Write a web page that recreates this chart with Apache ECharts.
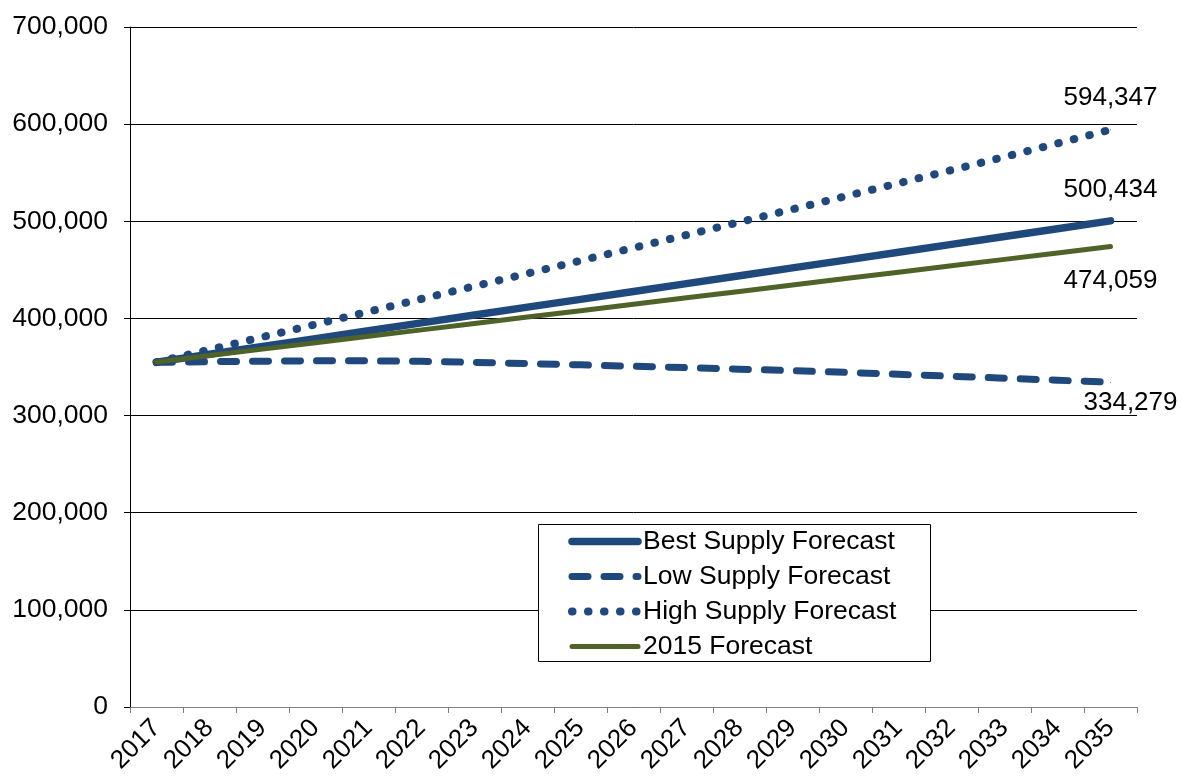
<!DOCTYPE html>
<html>
<head>
<meta charset="utf-8">
<script src="https://cdn.jsdelivr.net/npm/echarts@6/dist/echarts.min.js"></script>
<style>
  html, body { margin: 0; padding: 0; background: #fff; }
  #chart { width: 1182px; height: 781px; }
</style>
</head>
<body>
<div id="chart"></div>
<script>
// Supply forecasts, 2017–2035
const years = ['2017', '2018', '2019', '2020', '2021', '2022', '2023', '2024', '2025', '2026',
               '2027', '2028', '2029', '2030', '2031', '2032', '2033', '2034', '2035'];

const bestSupply = [355000, 363100, 371200, 379200, 387300, 395400, 403500, 411600, 419600, 427700,
                    435800, 443900, 452000, 460000, 468100, 476200, 484300, 492400, 500434];

const lowSupply = [354800, 355500, 356000, 356400, 356400, 355800, 354800, 353500, 352200, 350800,
                   349300, 347800, 346200, 344500, 342500, 340500, 338500, 336400, 334279];

const highSupply = [355000, 367900, 380900, 393900, 407000, 420100, 433200, 446300, 459500, 472700,
                    485900, 499200, 512400, 525800, 539200, 552700, 566300, 580200, 594347];

const forecast2015 = [355200, 361800, 368400, 375000, 381600, 388200, 394800, 401400, 408000, 414600,
                      421200, 427800, 434400, 441000, 447600, 454200, 460800, 467400, 474059];

const seriesNames = ['Best Supply Forecast', 'Low Supply Forecast', 'High Supply Forecast', '2015 Forecast'];

const BLUE = '#1F497D';
const GREEN = '#4F6228';
const FONT = 'Arial, "Liberation Sans", sans-serif';

const fmt = v => Number(v).toLocaleString('en-US');

// Only the final year carries a value label
function withEndLabel(values, label) {
  return values.map((v, i) => i === values.length - 1
    ? { value: v, symbol: 'circle', symbolSize: 1,
        label: Object.assign({ show: true, formatter: p => fmt(p.value),
        color: '#000', fontSize: 26, fontFamily: FONT }, label) }
    : v);
}

const styles = {
  best:  { color: BLUE,  width: 7.5, type: 'solid',     cap: 'round', join: 'round' },
  low:   { color: BLUE,  width: 7,   type: [16, 16],    cap: 'round', join: 'round' },
  high:  { color: BLUE,  width: 8,   type: [0.5, 15.5], cap: 'round', join: 'round' },
  f2015: { color: GREEN, width: 5,   type: 'solid',     cap: 'round', join: 'round' }
};

const chart = echarts.init(document.getElementById('chart'), null, { renderer: 'canvas' });

function lineSeries(name, values, style, label) {
  return {
    name: name,
    type: 'line',
    symbol: 'none',
    showSymbol: true,
    data: withEndLabel(values, label),
    lineStyle: style,
    itemStyle: { color: style.color },
    emphasis: { disabled: true }
  };
}

chart.setOption({
  animation: false,
  backgroundColor: '#fff',
  grid: { left: 130, right: 45, top: 27, bottom: 74, containLabel: false },
  xAxis: {
    type: 'category',
    data: years,
    boundaryGap: true,
    axisLine: { lineStyle: { color: '#808080', width: 1 } },
    axisTick: { show: true, length: 6, lineStyle: { color: '#808080' } },
    axisLabel: { rotate: 45, margin: 17, fontSize: 26, color: '#000', fontFamily: FONT, interval: 0 },
    splitLine: { show: false }
  },
  yAxis: {
    type: 'value',
    min: 0,
    max: 700000,
    interval: 100000,
    axisLine: { show: true, lineStyle: { color: '#000', width: 1 } },
    axisTick: { show: true, length: 6, lineStyle: { color: '#000' } },
    axisLabel: { margin: 22, fontSize: 26.5, color: '#000', fontFamily: FONT, formatter: fmt },
    splitLine: { show: true, lineStyle: { color: '#000', width: 1 } }
  },
  legend: {
    orient: 'vertical',
    left: 568,
    top: 528,
    z: 10,
    padding: 0,
    itemGap: 8,
    itemWidth: 66,
    itemHeight: 14,
    itemStyle: { opacity: 0 },
    data: [
      { name: seriesNames[0], lineStyle: { width: 7.5, type: 'solid', cap: 'round' } },
      { name: seriesNames[1], lineStyle: { width: 7, type: [16, 16], cap: 'round' } },
      { name: seriesNames[2], lineStyle: { width: 8, type: [0.5, 15.5], cap: 'round' } },
      { name: seriesNames[3], lineStyle: { width: 5, type: 'solid', cap: 'round' } }
    ],
    textStyle: { fontSize: 26.5, color: '#000', fontFamily: FONT }
  },
  graphic: [{
    type: 'rect',
    z: 5,
    shape: { x: 538.5, y: 524.5, width: 392, height: 137 },
    style: { fill: '#fff', stroke: '#000', lineWidth: 1 }
  }],
  series: [
    lineSeries(seriesNames[0], bestSupply, styles.best, { position: 'top', distance: 18 }),
    lineSeries(seriesNames[1], lowSupply, styles.low, { position: 'bottom', distance: 7, offset: [20, 0] }),
    lineSeries(seriesNames[2], highSupply, styles.high, { position: 'top', distance: 18 }),
    lineSeries(seriesNames[3], forecast2015, styles.f2015, { position: 'bottom', distance: 21 })
  ]
});
</script>
</body>
</html>
